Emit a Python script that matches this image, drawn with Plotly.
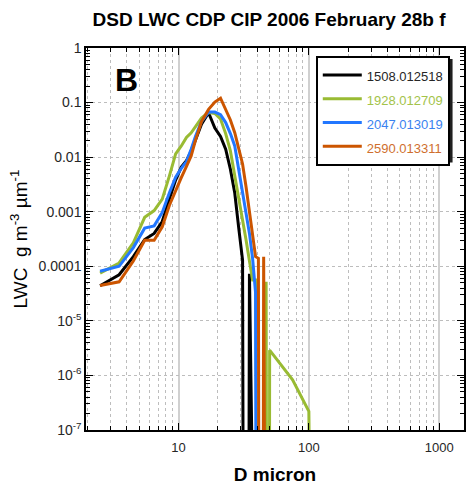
import math
import plotly.graph_objects as go

# Diameter bins (micron): CDP bin centres, then CIP bin centres
D_CDP = [2.5, 3.5, 4.5, 5.5, 6.5, 7.5, 8.5, 9.5, 10.5, 11.5, 12.5, 13.5,
         15, 17, 19, 21, 23, 25, 27, 29, 31, 33, 35, 37, 39, 41, 43, 45, 47, 49]
D_CIP = [50, 75, 100, 125]

# LWC (g m^-3 um^-1); 0 = empty bin
lwc_1508 = [4.4e-5, 7.0e-5, 1.5e-4, 3.1e-4, 4.0e-4, 6.6e-4, 1.7e-3, 3.8e-3, 6.6e-3, 8.6e-3,
            0.0128, 0.021, 0.040, 0.065, 0.034, 0.024, 0.014, 0.006, 2.2e-3, 4.9e-4,
            1.3e-4, 0, 7.3e-5, 0, 0, 0, 0, 0, 0, 0,
            0, 0, 0, 0]
lwc_1928 = [7.5e-5, 1.15e-4, 2.7e-4, 7.9e-4, 1.05e-3, 1.7e-3, 4.5e-3, 0.0115, 0.016, 0.023,
            0.028, 0.036, 0.052, 0.066, 0.063, 0.050, 0.027, 0.013, 4.7e-3, 1.9e-3,
            7.8e-4, 3.0e-4, 1.25e-4, 5.6e-5, 5.6e-5, 0, 0, 0, 5.2e-5, 0,
            2.9e-6, 8.3e-7, 2.2e-7, 0]
lwc_2047 = [8.1e-5, 1.0e-4, 2.2e-4, 5.0e-4, 5.5e-4, 9.7e-4, 2.2e-3, 4.3e-3, 6.2e-3, 8.3e-3,
            0.014, 0.024, 0.045, 0.067, 0.067, 0.060, 0.043, 0.027, 0.016, 6.0e-3,
            2.2e-3, 8.7e-4, 4.0e-4, 1.4e-4, 3.3e-5, 0, 0, 0, 0, 0,
            0, 0, 0, 0]
lwc_2590 = [4.45e-5, 5.2e-5, 1.25e-4, 3.0e-4, 3.0e-4, 5.3e-4, 1.3e-3, 2.5e-3, 4.2e-3, 6.8e-3,
            0.0105, 0.0205, 0.045, 0.075, 0.102, 0.120, 0.072, 0.048, 0.028, 0.015,
            7.5e-3, 2.8e-3, 1.0e-3, 3.6e-4, 1.5e-4, 1.4e-4, 0, 1.5e-4, 0, 0,
            0, 0, 0, 0]

series_names = ["1508.012518", "1928.012709", "2047.013019", "2590.013311"]
series_values = [lwc_1508, lwc_1928, lwc_2047, lwc_2590]
series_colors = ["#000000", "#99BB33", "#2277FF", "#CC5500"]
legend_text_colors = ["#262626", "#A3C34A", "#3A82F0", "#CF6F2E"]

x_ticks = [10, 100, 1000]
x_ticktext = ["10", "100", "1000"]
y_ticks = [1e-7, 1e-6, 1e-5, 1e-4, 1e-3, 1e-2, 1e-1, 1]
y_ticktext = ["10<sup>-7</sup>", "10<sup>-6</sup>", "10<sup>-5</sup>", "0.0001",
              "0.001", "0.01", "0.1", "1"]

ZERO_FLOOR = 1e-30  # empty bins drawn far below the log axis floor

D_all = D_CDP + D_CIP
FONT = "Liberation Sans, Arial, Helvetica, sans-serif"

fig = go.Figure()
for name, vals, col, tcol in zip(series_names, series_values, series_colors, legend_text_colors):
    fig.add_trace(go.Scatter(
        x=D_all,
        y=[v if v > 0 else ZERO_FLOOR for v in vals],
        mode="lines",
        line=dict(color=col, width=3),
        name=f'<span style="font-size:13px;fill:{tcol}">{name}</span>',
    ))

x_minor = [m * 10 ** e for e in range(0, 4) for m in range(2, 10)]
y_minor = [m * 10.0 ** e for e in range(-7, 0) for m in range(2, 10)]

# plot area in pixels (for placing the panel letter and legend shadow)
PL, PR, PT, PB = 86, 466, 48, 430


def px_x(p):
    return (p - PL) / (PR - PL)


def px_y(p):
    return (PB - p) / (PB - PT)


fig.update_layout(
    width=468, height=485,
    margin=dict(l=PL, r=468 - PR, t=PT, b=485 - PB),
    paper_bgcolor="white", plot_bgcolor="white",
    font=dict(family=FONT, color="#262626"),
    title=dict(text="<b>DSD LWC CDP CIP 2006 February 28b f</b>",
               x=px_x(270), xref="paper", xanchor="center",
               y=1 - 19.5 / 485, yref="container", yanchor="middle",
               font=dict(size=19, color="#000000", family=FONT)),
    showlegend=True,
    legend=dict(x=px_x(317), y=px_y(56), xanchor="left", yanchor="top",
                bgcolor="white", bordercolor="black", borderwidth=2,
                font=dict(size=16, family=FONT, color="#262626"),
                itemwidth=39),
    annotations=[dict(text="<b>B</b>", x=px_x(126.6), y=px_y(79.5), xref="paper", yref="paper",
                      xanchor="center", yanchor="middle", showarrow=False,
                      font=dict(size=32, color="black", family=FONT))],
    shapes=[dict(type="rect", xref="paper", yref="paper", layer="above",
                 x0=px_x(320), x1=px_x(454.5), y0=px_y(162.5), y1=px_y(59),
                 line=dict(width=0), fillcolor="#202020")],
)

fig.update_xaxes(
    type="log", range=[math.log10(1.95), math.log10(1550)],
    tickvals=x_ticks, ticktext=x_ticktext,
    ticks="inside", ticklen=7, tickwidth=1, tickcolor="black",
    showline=True, linecolor="black", linewidth=1.5, mirror="allticks",
    showgrid=True, gridcolor="#d0d0d0", gridwidth=1.5,
    tickfont=dict(size=13, family=FONT, color="#262626"),
    ticklabelstandoff=5,
    minor=dict(tickvals=x_minor, ticks="inside", ticklen=4, tickcolor="black",
               showgrid=True, gridcolor="#bdbdbd", griddash="dot", gridwidth=1),
    title=dict(text="<b>D micron</b>", font=dict(size=19, family=FONT, color="#000000"),
               standoff=14),
    zeroline=False,
)
fig.update_yaxes(
    type="log", range=[-7, 0],
    tickvals=y_ticks, ticktext=y_ticktext,
    ticks="inside", ticklen=7, tickwidth=1, tickcolor="black",
    showline=True, linecolor="black", linewidth=1.5, mirror="allticks",
    showgrid=True, gridcolor="#bdbdbd", griddash="dot", gridwidth=1,
    tickfont=dict(size=14, family=FONT, color="#262626"),
    minor=dict(tickvals=y_minor, ticks="inside", ticklen=4, tickcolor="black",
               showgrid=False),
    title=dict(text="LWC  g m<sup>-3</sup> µm<sup>-1</sup>",
               font=dict(size=19, family=FONT, color="#000000"), standoff=6),
    zeroline=False,
)

fig.write_html("out.html", config={"displayModeBar": False},
               post_script="document.body.style.margin='0';")
